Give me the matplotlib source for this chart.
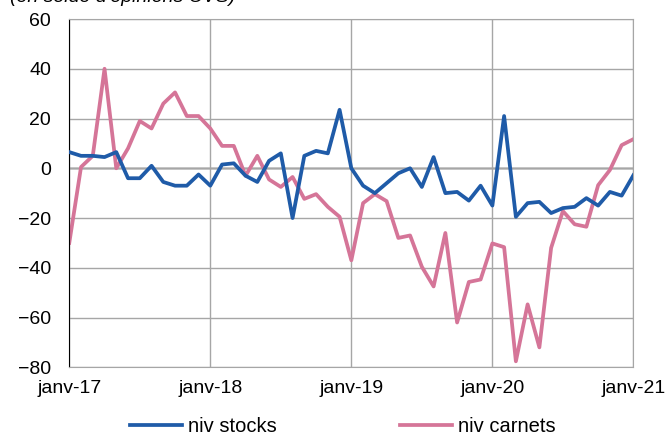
"""Niveau des stocks et des carnets de commandes, solde d'opinions CVS."""

import matplotlib.pyplot as plt
import numpy as np

plt.rcParams["font.family"] = ["Liberation Sans", "DejaVu Sans"]

# monthly, janv-17 .. janv-21
niv_stocks = [
    6.5, 5, 5, 4.5, 6.5, -4, -4, 1, -5.5, -7, -7, -2.5,
    -7, 1.5, 2, -3, -5.5, 3, 6, -20, 5, 7, 6, 23.5,
    0, -7, -10, -6, -2, 0, -7.5, 4.5, -10, -9.5, -13, -7,
    -15, 21, -19.5, -14, -13.5, -18, -16, -15.5, -12, -15, -9.5, -11,
    -2.8,
]
niv_carnets = [
    -30, 0.5, 5, 40, 0, 8, 19, 16, 26, 30.5, 21, 21,
    16, 9, 9, -3, 5, -4.5, -7.5, -3.5, -12.3, -10.4, -15.5, -19.5,
    -37, -14, -10.4, -13.2, -28, -27, -39.6, -47.5, -26, -62, -45.7, -44.7,
    -30.2, -31.7, -77.6, -54.7, -72, -32, -17.2, -22.5, -23.5, -6.8, -0.7, 9.3,
    11.7,
]
tick_labels = ["janv-17", "janv-18", "janv-19", "janv-20", "janv-21"]

BLUE = "#1f5ba8"
PINK = "#d57598"
GRID = "#a6a6a6"

fig = plt.figure(figsize=(6.68, 4.37), dpi=100)
ax = fig.add_axes([0.1037, 0.1595, 0.8445, 0.797])

months = np.arange(len(niv_stocks))
ax.plot(months, niv_stocks, color=BLUE, lw=2.7, label="niv stocks", zorder=3)
ax.plot(months, niv_carnets, color=PINK, lw=2.7, label="niv carnets", zorder=2)

ax.set_xlim(0, len(months) - 1)
ax.set_ylim(-80, 60)
ax.set_yticks(np.arange(-80, 61, 20))
ax.set_xticks(np.arange(0, len(months), 12))
ax.set_xticklabels(tick_labels)
ax.grid(True, color=GRID, lw=1.0, zorder=0)
ax.axhline(0, color="black", lw=1.0, zorder=1)
ax.tick_params(length=0, labelsize=14, colors="black")
ax.tick_params(axis="y", pad=13)
ax.tick_params(axis="x", pad=9)

for side in ("top", "right", "bottom"):
    ax.spines[side].set_color(GRID)
ax.spines["left"].set_color("black")

fig.text(0.015, 1.005, "(en solde d'opinions CVS)", style="italic",
         fontsize=14, ha="left", va="center")

fig.legend(loc="center", bbox_to_anchor=(0.513, 0.024), ncol=2, frameon=False,
           fontsize=14.5, handlelength=2.6, handletextpad=0.3, columnspacing=6.1)

fig.savefig("out.png", dpi=100)
